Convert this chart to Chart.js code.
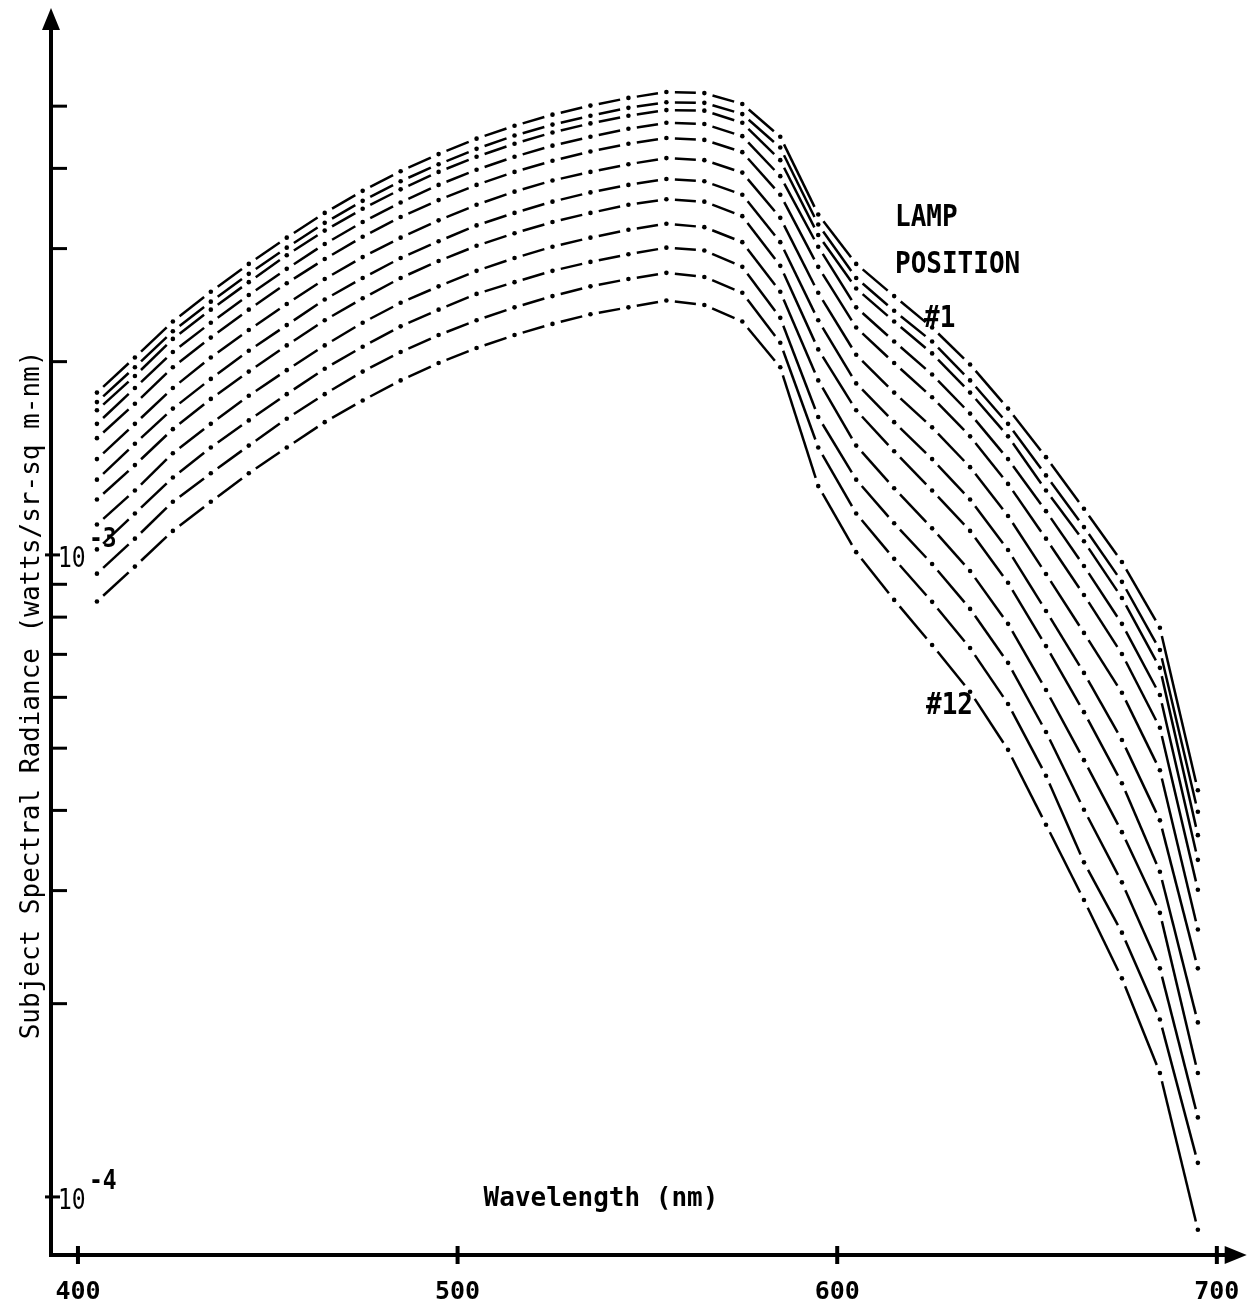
<!DOCTYPE html>
<html>
<head>
<meta charset="utf-8">
<title>Subject Spectral Radiance vs Wavelength</title>
<script src="https://cdn.jsdelivr.net/npm/chart.js@4.4.1/dist/chart.umd.min.js"></script>
<style>
  html, body { margin: 0; padding: 0; background: #fff; }
  #chart { display: block; }
</style>
</head>
<body>
<canvas id="chart" width="1248" height="1312"></canvas>
<script>
// wavelengths of the plotted points (nm)
const wavelengths = [405, 415, 425, 435, 445, 455, 465, 475, 485, 495, 505, 515, 525, 535, 545,
                     555, 565, 575, 585, 595, 605, 615, 625, 635, 645, 655, 665, 675, 685, 695];

// radiance, watts/sr-sq m-nm, lamp positions #1 .. #12
const lamp1  = [1.79e-3, 2.03e-3, 2.31e-3, 2.57e-3, 2.84e-3, 3.12e-3, 3.41e-3, 3.69e-3, 3.96e-3, 4.21e-3, 4.45e-3, 4.66e-3, 4.85e-3, 5.01e-3, 5.15e-3,
                5.26e-3, 5.24e-3, 5.04e-3, 4.48e-3, 3.39e-3, 2.84e-3, 2.53e-3, 2.26e-3, 1.98e-3, 1.69e-3, 1.42e-3, 1.18e-3, 0.975e-3, 0.770e-3, 0.430e-3];
const lamp2  = [1.73e-3, 1.96e-3, 2.23e-3, 2.48e-3, 2.74e-3, 3.01e-3, 3.29e-3, 3.56e-3, 3.82e-3, 4.06e-3, 4.29e-3, 4.50e-3, 4.68e-3, 4.83e-3, 4.97e-3,
                5.07e-3, 5.06e-3, 4.86e-3, 4.31e-3, 3.27e-3, 2.70e-3, 2.40e-3, 2.15e-3, 1.87e-3, 1.60e-3, 1.33e-3, 1.105e-3, 0.908e-3, 0.711e-3, 0.398e-3];
const lamp3  = [1.68e-3, 1.90e-3, 2.17e-3, 2.41e-3, 2.66e-3, 2.93e-3, 3.20e-3, 3.46e-3, 3.71e-3, 3.95e-3, 4.17e-3, 4.37e-3, 4.55e-3, 4.70e-3, 4.83e-3,
                4.93e-3, 4.92e-3, 4.71e-3, 4.12e-3, 3.15e-3, 2.60e-3, 2.31e-3, 2.06e-3, 1.79e-3, 1.53e-3, 1.26e-3, 1.05e-3, 0.857e-3, 0.667e-3, 0.366e-3];
const lamp4  = [1.60e-3, 1.82e-3, 2.07e-3, 2.30e-3, 2.54e-3, 2.79e-3, 3.05e-3, 3.30e-3, 3.54e-3, 3.77e-3, 3.98e-3, 4.17e-3, 4.34e-3, 4.48e-3, 4.61e-3,
                4.71e-3, 4.69e-3, 4.49e-3, 3.89e-3, 3.02e-3, 2.43e-3, 2.15e-3, 1.91e-3, 1.66e-3, 1.41e-3, 1.17e-3, 0.961e-3, 0.781e-3, 0.605e-3, 0.335e-3];
const lamp5  = [1.52e-3, 1.72e-3, 1.96e-3, 2.18e-3, 2.41e-3, 2.65e-3, 2.89e-3, 3.13e-3, 3.36e-3, 3.57e-3, 3.77e-3, 3.95e-3, 4.11e-3, 4.25e-3, 4.37e-3,
                4.46e-3, 4.43e-3, 4.24e-3, 3.64e-3, 2.81e-3, 2.26e-3, 1.99e-3, 1.76e-3, 1.53e-3, 1.29e-3, 1.06e-3, 0.866e-3, 0.701e-3, 0.538e-3, 0.301e-3];
const lamp6  = [1.41e-3, 1.60e-3, 1.82e-3, 2.03e-3, 2.24e-3, 2.46e-3, 2.69e-3, 2.91e-3, 3.12e-3, 3.32e-3, 3.51e-3, 3.68e-3, 3.83e-3, 3.95e-3, 4.06e-3,
                4.15e-3, 4.12e-3, 3.94e-3, 3.35e-3, 2.56e-3, 2.05e-3, 1.79e-3, 1.58e-3, 1.37e-3, 1.15e-3, 0.934e-3, 0.756e-3, 0.610e-3, 0.462e-3, 0.261e-3];
const lamp7  = [1.31e-3, 1.49e-3, 1.69e-3, 1.88e-3, 2.08e-3, 2.28e-3, 2.50e-3, 2.70e-3, 2.90e-3, 3.08e-3, 3.26e-3, 3.41e-3, 3.55e-3, 3.67e-3, 3.77e-3,
                3.85e-3, 3.82e-3, 3.64e-3, 3.07e-3, 2.32e-3, 1.85e-3, 1.61e-3, 1.41e-3, 1.22e-3, 1.018e-3, 0.818e-3, 0.655e-3, 0.515e-3, 0.386e-3, 0.227e-3];
const lamp8  = [1.22e-3, 1.38e-3, 1.57e-3, 1.75e-3, 1.93e-3, 2.12e-3, 2.32e-3, 2.51e-3, 2.70e-3, 2.87e-3, 3.03e-3, 3.17e-3, 3.30e-3, 3.41e-3, 3.51e-3,
                3.58e-3, 3.55e-3, 3.37e-3, 2.82e-3, 2.09e-3, 1.68e-3, 1.45e-3, 1.26e-3, 1.09e-3, 0.905e-3, 0.721e-3, 0.569e-3, 0.441e-3, 0.321e-3, 0.187e-3];
const lamp9  = [1.115e-3, 1.26e-3, 1.44e-3, 1.60e-3, 1.77e-3, 1.94e-3, 2.12e-3, 2.30e-3, 2.47e-3, 2.62e-3, 2.77e-3, 2.90e-3, 3.02e-3, 3.12e-3, 3.21e-3,
                3.28e-3, 3.24e-3, 3.07e-3, 2.57e-3, 1.87e-3, 1.48e-3, 1.27e-3, 1.10e-3, 0.944e-3, 0.781e-3, 0.616e-3, 0.479e-3, 0.370e-3, 0.277e-3, 0.156e-3];
const lamp10 = [1.02e-3, 1.16e-3, 1.32e-3, 1.47e-3, 1.62e-3, 1.78e-3, 1.95e-3, 2.11e-3, 2.27e-3, 2.41e-3, 2.55e-3, 2.66e-3, 2.77e-3, 2.86e-3, 2.94e-3,
                3.01e-3, 2.98e-3, 2.81e-3, 2.34e-3, 1.64e-3, 1.31e-3, 1.12e-3, 0.968e-3, 0.824e-3, 0.679e-3, 0.530e-3, 0.401e-3, 0.309e-3, 0.227e-3, 0.133e-3];
const lamp11 = [0.935e-3, 1.06e-3, 1.21e-3, 1.34e-3, 1.48e-3, 1.63e-3, 1.78e-3, 1.93e-3, 2.07e-3, 2.20e-3, 2.32e-3, 2.43e-3, 2.53e-3, 2.62e-3, 2.69e-3,
                2.75e-3, 2.71e-3, 2.56e-3, 2.14e-3, 1.47e-3, 1.16e-3, 0.986e-3, 0.845e-3, 0.716e-3, 0.586e-3, 0.453e-3, 0.332e-3, 0.258e-3, 0.189e-3, 0.113e-3];
const lamp12 = [0.846e-3, 0.959e-3, 1.09e-3, 1.21e-3, 1.34e-3, 1.47e-3, 1.61e-3, 1.74e-3, 1.87e-3, 1.99e-3, 2.10e-3, 2.20e-3, 2.29e-3, 2.37e-3, 2.43e-3,
                2.49e-3, 2.45e-3, 2.31e-3, 1.96e-3, 1.28e-3, 1.01e-3, 0.851e-3, 0.724e-3, 0.612e-3, 0.497e-3, 0.380e-3, 0.290e-3, 0.219e-3, 0.156e-3, 0.0889e-3];

const lampSeries = [lamp1, lamp2, lamp3, lamp4, lamp5, lamp6, lamp7, lamp8, lamp9, lamp10, lamp11, lamp12];

// axis ticks
const xTicks = [400, 500, 600, 700];
const yTicks = [1e-4, 2e-4, 3e-4, 4e-4, 5e-4, 6e-4, 7e-4, 8e-4, 9e-4, 1e-3, 2e-3, 3e-3, 4e-3, 5e-3];
const yDecades = [1e-4, 1e-3];
const yDecadeExp = ['-4', '-3'];

const MONO = '"DejaVu Sans Mono", "Liberation Mono", monospace';

// draw text, optionally stretched vertically (the plotter lettering is tall)
function txt(ctx, s, x, y, font, align, sy) {
    ctx.save();
    ctx.translate(x, y);
    ctx.scale(1, sy || 1);
    ctx.font = font;
    ctx.textAlign = align || 'left';
    ctx.textBaseline = 'alphabetic';
    ctx.fillText(s, 0, 0);
    ctx.restore();
}

const axisDeco = {
    id: 'axisDeco',
    afterDraw(chart) {
        const { ctx, chartArea: a, scales: { y } } = chart;
        ctx.save();
        ctx.strokeStyle = '#000';
        ctx.fillStyle = '#000';
        ctx.lineCap = 'butt';
        ctx.setLineDash([]);

        // y axis with arrow
        ctx.lineWidth = 4;
        ctx.beginPath();
        ctx.moveTo(a.left, a.bottom + 2);
        ctx.lineTo(a.left, a.top + 16);
        ctx.stroke();
        ctx.beginPath();
        ctx.moveTo(a.left, a.top);
        ctx.lineTo(a.left - 9, a.top + 22);
        ctx.lineTo(a.left + 9, a.top + 22);
        ctx.closePath();
        ctx.fill();

        // x axis with arrow
        ctx.beginPath();
        ctx.moveTo(a.left - 2, a.bottom);
        ctx.lineTo(a.right - 16, a.bottom);
        ctx.stroke();
        ctx.beginPath();
        ctx.moveTo(a.right + 1, a.bottom);
        ctx.lineTo(a.right - 21, a.bottom - 9);
        ctx.lineTo(a.right - 21, a.bottom + 9);
        ctx.closePath();
        ctx.fill();

        // x tick marks
        const xs = chart.scales.x;
        xTicks.forEach(v => {
            const px = xs.getPixelForValue(v);
            ctx.beginPath();
            ctx.moveTo(px, a.bottom - 9);
            ctx.lineTo(px, a.bottom + 9);
            ctx.stroke();
        });

        // y tick marks, pointing into the plot
        ctx.lineWidth = 3;
        yTicks.forEach(v => {
            const py = y.getPixelForValue(v);
            const isDecade = yDecades.includes(v);
            ctx.beginPath();
            ctx.moveTo(a.left - (isDecade ? 6 : 0), py);
            ctx.lineTo(a.left + (isDecade ? 9 : 16), py);
            ctx.stroke();
        });

        // decade labels 10^-n
        yDecades.forEach((v, i) => {
            const py = y.getPixelForValue(v);
            txt(ctx, '10', a.left + 7, py + 12, '23px ' + MONO, 'left', 1.2);
            txt(ctx, yDecadeExp[i], a.left + 38, py - 8, 'bold 23px ' + MONO, 'left', 1.15);
        });

        // axis titles
        txt(ctx, 'Wavelength (nm)', 601, 1206, 'bold 26px ' + MONO, 'center', 1.05);
        ctx.save();
        ctx.translate(39, 695);
        ctx.rotate(-Math.PI / 2);
        ctx.font = '26px ' + MONO;
        ctx.textAlign = 'center';
        ctx.textBaseline = 'alphabetic';
        ctx.fillText('Subject Spectral Radiance (watts/sr-sq m-nm)', 0, 0);
        ctx.restore();

        // annotations
        txt(ctx, 'LAMP', 895, 226, 'bold 26px ' + MONO, 'left', 1.15);
        txt(ctx, 'POSITION', 895, 273, 'bold 26px ' + MONO, 'left', 1.15);
        txt(ctx, '#1', 924, 327, 'bold 26px ' + MONO, 'left', 1.15);
        txt(ctx, '#12', 926, 714, 'bold 26px ' + MONO, 'left', 1.15);

        ctx.restore();
    }
};

// white space left around each plotted point (px)
const GAP = 17;

const datasets = lampSeries.map((series, i) => ({
    label: 'Lamp position #' + (i + 1),
    data: series.map((v, j) => ({ x: wavelengths[j], y: v })),
    borderColor: '#000',
    backgroundColor: '#000',
    borderWidth: 2.5,
    pointRadius: 2.3,
    pointBorderWidth: 0,
    pointHoverRadius: 0,
    tension: 0,
    segment: {
        // one dash per segment, gaps at both data points (dash-dot look)
        borderDash: c => {
            const L = Math.hypot(c.p1.x - c.p0.x, c.p1.y - c.p0.y);
            return [Math.max(L - GAP, 2), GAP];
        },
        borderDashOffset: -GAP / 2
    }
}));

new Chart(document.getElementById('chart').getContext('2d'), {
    type: 'line',
    data: { datasets: datasets },
    options: {
        responsive: false,
        animation: false,
        layout: { padding: { left: 51, top: 8, right: 1, bottom: 0 } },
        plugins: {
            legend: { display: false },
            tooltip: { enabled: false }
        },
        scales: {
            x: {
                type: 'linear',
                min: 392.9,
                max: 707.6,
                afterBuildTicks: s => { s.ticks = xTicks.map(v => ({ value: v })); },
                afterFit: s => { s.height = 57; s.paddingLeft = 0; s.paddingRight = 0; },
                grid: { display: false, drawTicks: false },
                border: { display: false },
                ticks: {
                    color: '#000',
                    padding: 22,
                    maxRotation: 0,
                    font: { family: MONO, size: 25, weight: 'bold' }
                }
            },
            y: {
                type: 'logarithmic',
                min: 8.12e-5,
                max: 7.11e-3,
                display: false
            }
        }
    },
    plugins: [axisDeco]
});
</script>
</body>
</html>
